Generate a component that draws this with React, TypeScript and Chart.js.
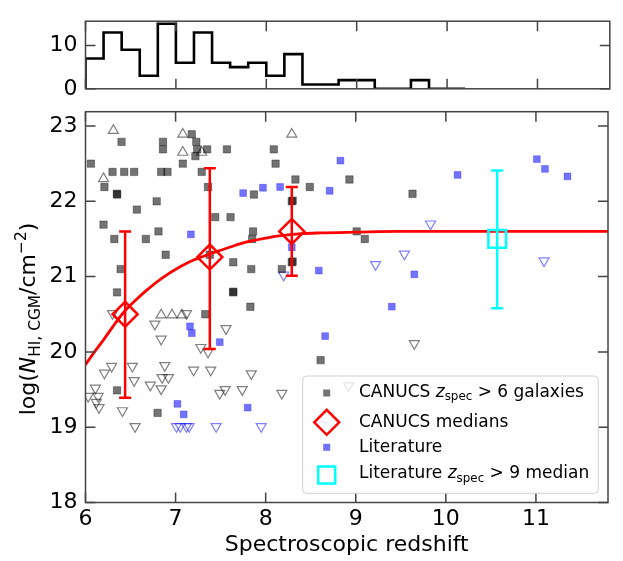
import React, { useEffect, useRef } from 'react';
import { Chart, registerables } from 'chart.js';
Chart.register(...registerables);

const FONT = "'DejaVu Sans', sans-serif";
const W = 623;
const H = 561;
const TOPH = 110;

// ---------- data ----------
const histEdges = [6.0, 6.2, 6.4, 6.6, 6.8, 7.0, 7.2, 7.4, 7.6, 7.8, 8.0, 8.2, 8.4, 8.6, 8.8, 9.0, 9.2, 9.4, 9.6, 9.8, 10.0, 10.2];
const histCounts = [7, 13, 9, 3, 15, 6, 13, 6, 5, 6, 3, 8, 1, 1, 2, 2, 0, 0, 2, 0, 0];
const histYTicks = [0, 10];
const zTicks = [6, 7, 8, 9, 10, 11];
const nTicks = [18, 19, 20, 21, 22, 23];

// CANUCS detections
const canDetZ = [7.18, 6.40, 6.86, 7.23, 6.86, 7.24, 7.35, 7.57, 8.09, 7.22, 6.06, 7.08, 8.11, 6.30, 6.43, 6.54, 6.84, 6.91, 7.29, 6.21, 6.35, 6.35, 7.36, 7.87, 6.79, 6.57, 6.20, 7.44, 7.61, 6.32, 6.67, 6.81, 7.86, 7.85, 6.89, 7.38, 7.64, 6.39, 7.84, 6.35, 7.64, 7.64, 7.83, 8.33, 8.49, 8.93, 9.63, 8.29, 8.30, 9.01, 9.10, 8.29, 8.30, 8.18, 7.33, 6.35, 6.80, 8.61];
const canDetN = [22.89, 22.79, 22.79, 22.79, 22.69, 22.69, 22.69, 22.69, 22.69, 22.60, 22.50, 22.50, 22.50, 22.39, 22.39, 22.39, 22.39, 22.39, 22.39, 22.19, 22.09, 22.10, 22.19, 22.09, 22.00, 21.89, 21.69, 21.79, 21.79, 21.50, 21.50, 21.60, 21.60, 21.50, 21.29, 21.29, 21.19, 21.10, 21.10, 20.79, 20.79, 20.80, 20.60, 22.29, 22.19, 22.29, 22.10, 22.00, 22.01, 21.60, 21.50, 21.19, 21.20, 21.10, 20.50, 19.49, 19.19, 19.89];
// CANUCS lower limits
const canLoZ = [6.31, 7.08, 7.08, 7.29, 6.20, 8.29, 6.84, 6.96, 7.07];
const canLoN = [22.94, 22.89, 22.65, 22.65, 22.30, 22.89, 20.49, 20.49, 20.49];
// CANUCS upper limits
const canUpZ = [7.12, 6.30, 6.77, 7.56, 6.84, 7.28, 7.36, 6.29, 6.21, 6.52, 6.88, 6.85, 6.92, 6.54, 6.72, 6.84, 7.20, 7.39, 7.84, 6.11, 6.03, 6.14, 6.12, 6.15, 6.41, 7.55, 7.49, 7.74, 6.55, 9.65, 8.18, 8.92];
const canUpN = [20.51, 20.51, 20.37, 20.31, 20.17, 20.06, 20.00, 19.81, 19.72, 19.81, 19.82, 19.66, 19.66, 19.62, 19.56, 19.51, 19.76, 19.76, 19.71, 19.52, 19.41, 19.41, 19.33, 19.26, 19.22, 19.50, 19.45, 19.50, 19.01, 20.11, 19.45, 19.55];
// Literature detections
const litDetZ = [7.75, 7.97, 8.16, 7.17, 8.83, 8.71, 10.13, 8.29, 8.59, 9.65, 9.40, 11.01, 11.10, 11.35, 7.16, 7.18, 7.49, 7.02, 7.09, 7.80, 8.66];
const litDetN = [22.11, 22.18, 22.19, 21.56, 22.54, 22.14, 22.35, 21.39, 21.08, 21.03, 20.60, 22.56, 22.43, 22.33, 20.34, 20.25, 20.13, 19.31, 19.17, 19.26, 20.21];
// Literature upper limits
const litUpZ = [9.83, 9.54, 9.22, 8.20, 11.09, 7.01, 7.05, 7.12, 7.15, 7.45, 7.95, 8.62];
const litUpN = [21.70, 21.30, 21.16, 21.02, 21.21, 19.01, 19.01, 19.01, 19.01, 19.01, 19.01, 19.03];
// CANUCS medians
const medZ = [6.44, 7.38, 8.29];
const medN = [20.50, 21.26, 21.60];
const medLo = [19.39, 20.04, 21.01];
const medHi = [21.60, 22.44, 22.19];
// Literature z>9 median
const litMedZ = [10.57];
const litMedN = [21.50];
const litMedLo = [20.58];
const litMedHi = [22.41];
// fitted curve
const fitZ = [6.0, 6.1, 6.2, 6.3, 6.42, 6.55, 6.68, 6.85, 7.05, 7.2, 7.38, 7.6, 7.79, 8.0, 8.15, 8.4, 8.6, 9.0, 9.5, 10.0, 11.0, 11.8];
const fitN = [19.83, 20.0, 20.16, 20.33, 20.52, 20.68, 20.82, 20.98, 21.13, 21.22, 21.30, 21.39, 21.46, 21.51, 21.54, 21.57, 21.58, 21.59, 21.6, 21.6, 21.6, 21.6];

// ---------- layout ----------
const L = 85.5;
const R = 609.8;
const TOP_T = 2.7;
const TOP_B = 98.7;
const MAIN_T = 111.7;
const MAIN_B = 502.5;
const XMAX = 11.8;
const FRAME = '#444';
const TL = 10;

const pts = (z: number[], n: number[]) => z.map((x, i) => ({ x, y: n[i] }));

type Seg = { t: string; it?: boolean; sub?: boolean; sup?: boolean };
function richWidth(ctx: CanvasRenderingContext2D, segs: Seg[], size: number) {
  let w = 0;
  for (const s of segs) {
    const fs = s.sub || s.sup ? size * 0.7 : size;
    ctx.font = `${s.it ? 'italic ' : ''}${fs}px ${FONT}`;
    w += ctx.measureText(s.t).width;
  }
  return w;
}
function drawRich(ctx: CanvasRenderingContext2D, segs: Seg[], x: number, y: number, size: number) {
  let cx = x;
  ctx.textBaseline = 'alphabetic';
  ctx.textAlign = 'left';
  for (const s of segs) {
    const fs = s.sub || s.sup ? size * 0.7 : size;
    ctx.font = `${s.it ? 'italic ' : ''}${fs}px ${FONT}`;
    const dy = s.sub ? size * 0.22 : s.sup ? -size * 0.42 : 0;
    ctx.fillText(s.t, cx, y + dy);
    cx += ctx.measureText(s.t).width;
  }
}

function makeFrame(xt: number[], yt: number[]) {
  return {
    id: 'frame',
    afterDatasetsDraw(chart: any) {
      const { ctx, chartArea: a, scales } = chart;
      ctx.save();
      ctx.strokeStyle = FRAME;
      ctx.lineWidth = 1.5;
      ctx.beginPath();
      for (const v of xt) {
        const px = scales.x.getPixelForValue(v);
        ctx.moveTo(px, a.bottom);
        ctx.lineTo(px, a.bottom - TL);
        ctx.moveTo(px, a.top);
        ctx.lineTo(px, a.top + TL);
      }
      for (const v of yt) {
        const py = scales.y.getPixelForValue(v);
        ctx.moveTo(a.left, py);
        ctx.lineTo(a.left + TL, py);
        ctx.moveTo(a.right, py);
        ctx.lineTo(a.right - TL, py);
      }
      ctx.stroke();
      ctx.strokeRect(a.left, a.top, a.right - a.left, a.bottom - a.top);
      ctx.restore();
    },
  };
}

const errorBars = {
  id: 'errorBars',
  afterDatasetsDraw(chart: any) {
    const { ctx, scales } = chart;
    const draw = (z: number[], lo: number[], hi: number[], color: string) => {
      ctx.save();
      ctx.strokeStyle = color;
      ctx.lineWidth = 2.5;
      ctx.beginPath();
      z.forEach((v, i) => {
        const px = scales.x.getPixelForValue(v);
        const p1 = scales.y.getPixelForValue(lo[i]);
        const p2 = scales.y.getPixelForValue(hi[i]);
        ctx.moveTo(px, p1);
        ctx.lineTo(px, p2);
        ctx.moveTo(px - 6, p1);
        ctx.lineTo(px + 6, p1);
        ctx.moveTo(px - 6, p2);
        ctx.lineTo(px + 6, p2);
      });
      ctx.stroke();
      ctx.restore();
    };
    draw(medZ, medLo, medHi, 'red');
    draw(litMedZ, litMedLo, litMedHi, 'cyan');
  },
};

const titles = {
  id: 'titles',
  afterDraw(chart: any) {
    const { ctx, chartArea: a } = chart;
    ctx.save();
    ctx.fillStyle = '#000';
    ctx.font = `22px ${FONT}`;
    ctx.textAlign = 'center';
    ctx.textBaseline = 'alphabetic';
    ctx.fillText('Spectroscopic redshift', (a.left + a.right) / 2, 551);
    const segs: Seg[] = [
      { t: 'log(' },
      { t: 'N', it: true },
      { t: 'HI, CGM', sub: true },
      { t: '/cm' },
      { t: '\u22122', sup: true },
      { t: ')' },
    ];
    const w = richWidth(ctx, segs, 22);
    ctx.translate(35, 319);
    ctx.rotate(-Math.PI / 2);
    drawRich(ctx, segs, -w / 2, 0, 22);
    ctx.restore();
  },
};

const legendPlugin = {
  id: 'customLegend',
  afterDraw(chart: any) {
    const { ctx } = chart;
    ctx.save();
    const x0 = 302.7, y0 = 376, x1 = 598.3, y1 = 493.3, r = 4;
    ctx.beginPath();
    ctx.moveTo(x0 + r, y0);
    ctx.lineTo(x1 - r, y0);
    ctx.quadraticCurveTo(x1, y0, x1, y0 + r);
    ctx.lineTo(x1, y1 - r);
    ctx.quadraticCurveTo(x1, y1, x1 - r, y1);
    ctx.lineTo(x0 + r, y1);
    ctx.quadraticCurveTo(x0, y1, x0, y1 - r);
    ctx.lineTo(x0, y0 + r);
    ctx.quadraticCurveTo(x0, y0, x0 + r, y0);
    ctx.closePath();
    ctx.fillStyle = 'rgba(255,255,255,0.8)';
    ctx.fill();
    ctx.strokeStyle = '#d0d0d0';
    ctx.lineWidth = 1;
    ctx.stroke();

    const mx = 326.7;
    ctx.fillStyle = 'rgba(0,0,0,0.55)';
    ctx.fillRect(mx - 3.5, 393 - 3.5, 7, 7);
    ctx.strokeStyle = 'red';
    ctx.lineWidth = 2.5;
    ctx.beginPath();
    ctx.moveTo(mx - 12.5, 422.3);
    ctx.lineTo(mx, 422.3 - 12.5);
    ctx.lineTo(mx + 12.5, 422.3);
    ctx.lineTo(mx, 422.3 + 12.5);
    ctx.closePath();
    ctx.stroke();
    ctx.fillStyle = 'rgba(0,0,255,0.55)';
    ctx.fillRect(mx - 3.5, 447.3 - 3.5, 7, 7);
    ctx.strokeStyle = 'cyan';
    ctx.strokeRect(mx - 8.5, 475 - 8.5, 17, 17);

    ctx.fillStyle = '#000';
    const fs = 17;
    const tx = 359;
    drawRich(ctx, [{ t: 'CANUCS ' }, { t: 'z', it: true }, { t: 'spec', sub: true }, { t: ' > 6 galaxies' }], tx, 396.7, fs);
    drawRich(ctx, [{ t: 'CANUCS medians' }], tx, 426.7, fs);
    drawRich(ctx, [{ t: 'Literature' }], tx, 451.7, fs);
    drawRich(ctx, [{ t: 'Literature ' }, { t: 'z', it: true }, { t: 'spec', sub: true }, { t: ' > 9 median' }], tx, 478.3, fs);
    ctx.restore();
  },
};

const tickFont = { family: FONT, size: 22 };

export default function App() {
  const topRef = useRef<HTMLCanvasElement>(null);
  const mainRef = useRef<HTMLCanvasElement>(null);

  useEffect(() => {
    const histPts = [{ x: histEdges[0], y: 0 }, ...histCounts.map((c, i) => ({ x: histEdges[i], y: c })), { x: histEdges[histEdges.length - 1], y: 0 }];
    const top = new Chart(topRef.current as HTMLCanvasElement, {
      type: 'line',
      data: {
        datasets: [
          {
            data: histPts,
            stepped: 'before',
            borderColor: '#000',
            borderWidth: 2.6,
            pointRadius: 0,
            fill: false,
          } as any,
        ],
      },
      options: {
        animation: false,
        responsive: false,
        events: [],
        layout: { padding: { top: TOP_T, right: W - R, bottom: 0, left: 0 } },
        plugins: { legend: { display: false }, tooltip: { enabled: false } },
        scales: {
          x: {
            type: 'linear',
            min: 6,
            max: XMAX,
            grid: { display: false, drawTicks: false },
            border: { display: false },
            ticks: { display: false },
            afterBuildTicks: (s: any) => {
              s.ticks = zTicks.map((v) => ({ value: v }));
            },
            afterFit: (s: any) => {
              s.height = TOPH - TOP_B;
            },
          },
          y: {
            type: 'linear',
            min: 0,
            max: 15.6,
            grid: { display: false, drawTicks: false },
            border: { display: false },
            ticks: { font: tickFont, color: '#000', padding: 8 },
            afterBuildTicks: (s: any) => {
              s.ticks = histYTicks.map((v) => ({ value: v }));
            },
            afterFit: (s: any) => {
              s.width = L;
            },
          },
        },
      } as any,
      plugins: [makeFrame(zTicks, histYTicks)],
    });

    const grayEdge = 'rgba(0,0,0,0.5)';
    const blueEdge = 'rgba(0,0,255,0.5)';
    const main = new Chart(mainRef.current as HTMLCanvasElement, {
      type: 'scatter',
      data: {
        datasets: [
          { data: pts(medZ, medN), pointStyle: 'rectRot', pointRadius: 12.5, borderColor: 'red', borderWidth: 2.5, backgroundColor: 'rgba(0,0,0,0)', order: 0 },
          { data: pts(litMedZ, litMedN), pointStyle: 'rect', pointRadius: 12.5, borderColor: 'cyan', borderWidth: 2.5, backgroundColor: 'rgba(0,0,0,0)', order: 1 },
          { data: pts(fitZ, fitN), showLine: true, pointRadius: 0, borderColor: 'red', borderWidth: 2.8, cubicInterpolationMode: 'monotone', order: 2 },
          { data: pts(canDetZ, canDetN), pointStyle: 'rect', pointRadius: 5.2, backgroundColor: 'rgba(0,0,0,0.55)', borderColor: 'rgba(0,0,0,0.35)', borderWidth: 1, order: 3 },
          { data: pts(litDetZ, litDetN), pointStyle: 'rect', pointRadius: 4.8, backgroundColor: 'rgba(0,0,255,0.55)', borderColor: 'rgba(0,0,255,0.3)', borderWidth: 1, order: 4 },
          { data: pts(canLoZ, canLoN), pointStyle: 'triangle', pointRadius: 5.8, backgroundColor: 'rgba(255,255,255,0)', borderColor: grayEdge, borderWidth: 1.2, order: 5 },
          { data: pts(canUpZ, canUpN), pointStyle: 'triangle', pointRotation: 180, pointRadius: 5.8, backgroundColor: 'rgba(255,255,255,0)', borderColor: grayEdge, borderWidth: 1.2, order: 6 },
          { data: pts(litUpZ, litUpN), pointStyle: 'triangle', pointRotation: 180, pointRadius: 5.8, backgroundColor: 'rgba(255,255,255,0)', borderColor: blueEdge, borderWidth: 1.2, order: 7 },
        ] as any,
      },
      options: {
        animation: false,
        responsive: false,
        events: [],
        layout: { padding: { top: MAIN_T, right: W - R, bottom: 0, left: 0 } },
        plugins: { legend: { display: false }, tooltip: { enabled: false } },
        scales: {
          x: {
            type: 'linear',
            min: 6,
            max: XMAX,
            grid: { display: false, drawTicks: false },
            border: { display: false },
            ticks: { font: tickFont, color: '#000', padding: 4 },
            afterBuildTicks: (s: any) => {
              s.ticks = zTicks.map((v) => ({ value: v }));
            },
            afterFit: (s: any) => {
              s.height = H - MAIN_B;
            },
          },
          y: {
            type: 'linear',
            min: 18,
            max: 23.19,
            grid: { display: false, drawTicks: false },
            border: { display: false },
            ticks: { font: tickFont, color: '#000', padding: 8 },
            afterBuildTicks: (s: any) => {
              s.ticks = nTicks.map((v) => ({ value: v }));
            },
            afterFit: (s: any) => {
              s.width = L;
            },
          },
        },
      } as any,
      plugins: [errorBars, makeFrame(zTicks, nTicks), titles, legendPlugin],
    });

    return () => {
      top.destroy();
      main.destroy();
    };
  }, []);

  return (
    <div style={{ position: 'absolute', left: 0, top: 0, width: W, height: H, background: '#fff' }}>
      <canvas ref={mainRef} width={W} height={H} style={{ position: 'absolute', left: 0, top: 0, width: W, height: H, display: 'block' }} />
      <canvas ref={topRef} width={W} height={TOPH} style={{ position: 'absolute', left: 0, top: 0, width: W, height: TOPH, display: 'block' }} />
    </div>
  );
}
